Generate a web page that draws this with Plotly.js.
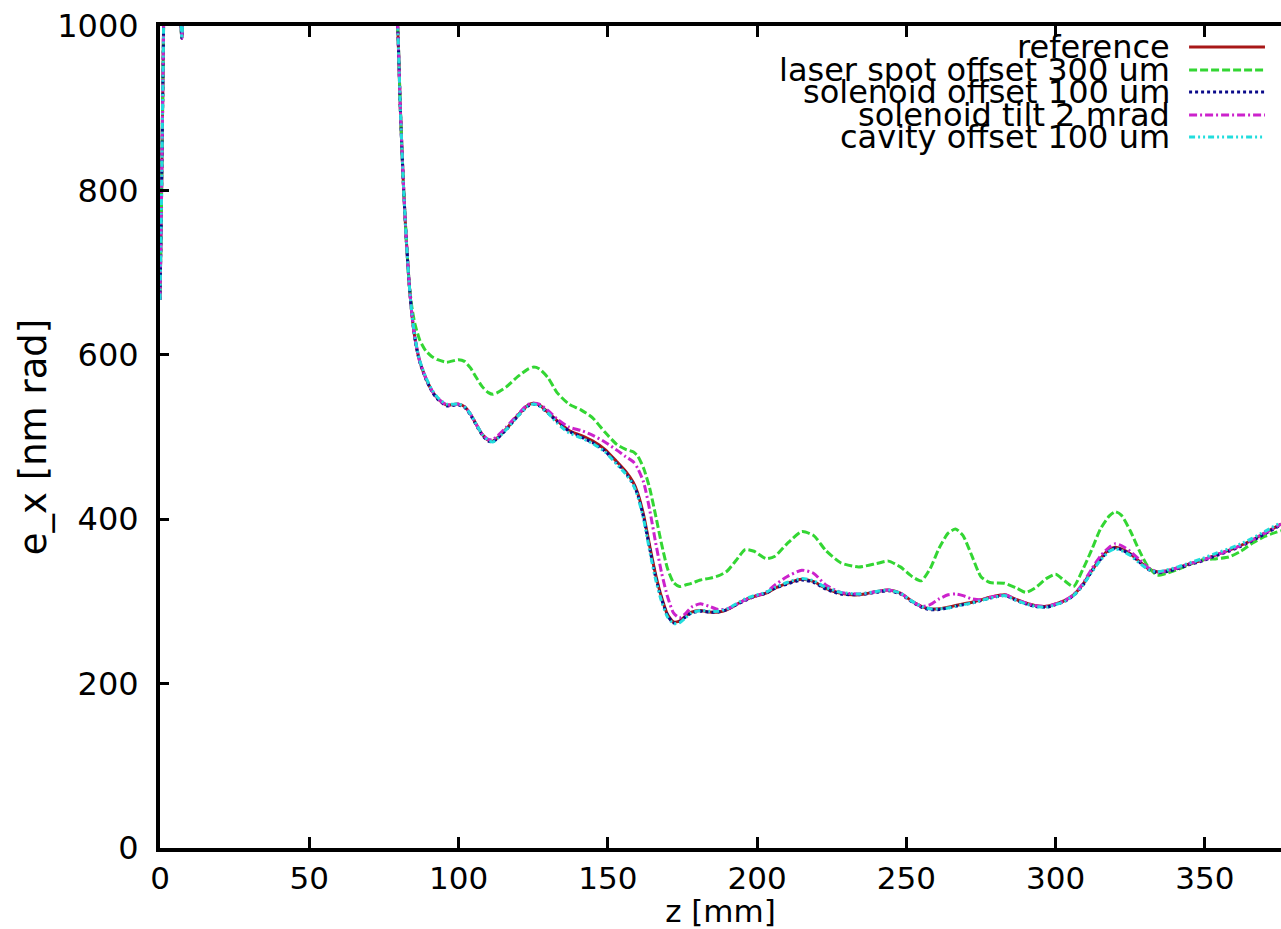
<!DOCTYPE html>
<html>
<head>
<meta charset="utf-8">
<script src="https://cdn.plot.ly/plotly-3.0.1.min.js"></script>
<style>html,body{margin:0;padding:0;background:#fff;}#chart{width:1281px;height:929px;}</style>
</head>
<body>
<div id="chart"></div>
<script>
// z positions [mm]
const z = [
  0, 0.4, 0.8, 1.2, 1.6, 3, 5, 6.5, 7.3, 8,
  10, 20, 40, 60, 75, 78, 79.6, 80.5, 81.5, 82.5,
  83.5, 84.5, 85.5, 87, 89, 91, 93, 96, 100, 102,
  104, 106, 108, 110, 111.5, 113, 116, 120, 123, 125,
  127, 130, 133, 137, 141, 145, 149, 153, 156, 158.5,
  160, 162, 164, 166, 168, 170, 172, 174, 176, 178,
  181, 184, 187, 190, 193, 196, 199, 203, 206, 210,
  215, 219, 223, 228, 234, 240, 244, 248, 252, 255,
  258, 261, 264, 266.5, 269, 272, 275, 278, 283, 287,
  290, 293, 297, 300, 303, 306, 309, 312, 315, 318,
  320, 322, 325, 328, 331, 334, 337, 341, 345, 349,
  354, 358, 362, 366, 370, 375.5
];

const exReference = [
  667, 760, 880, 1000, 1150, 1400, 1250, 1060, 985, 1050,
  1300, 1800, 2000, 1800, 1300, 1080, 1000, 900, 810, 740,
  685, 645, 618, 592, 572, 557, 547, 539, 540, 537,
  528, 515, 503, 496, 495, 499, 510, 527, 538, 541,
  539, 530, 520, 508, 502, 495, 485, 470, 458, 445,
  432, 405, 368, 333, 305, 284, 275, 276, 282, 287,
  289, 287, 287, 290, 296, 302, 306, 310, 316, 322,
  327, 324, 316, 310, 308, 312, 314, 310, 300, 294,
  291, 291, 293, 295, 297, 299, 302, 305, 308, 302,
  298, 295, 294, 297, 301, 308, 320, 337, 352, 363,
  366, 364, 358, 349, 340, 336, 337, 341, 346, 350,
  357, 362, 368, 375, 383, 394
];

const exLaser = [
  667, 760, 880, 1000, 1150, 1400, 1250, 1060, 985, 1050,
  1300, 1800, 2000, 1800, 1300, 1080, 1000, 900, 810, 740,
  685, 655, 636, 618, 605, 598, 594, 591, 594, 592,
  584, 572, 561, 554, 552, 554, 561, 574, 582, 585,
  583, 572, 554, 540, 533, 523, 506, 491, 485, 482,
  477, 462, 438, 405, 370, 340, 323, 318, 320, 322,
  326, 328, 331, 337, 350, 363, 361, 352, 355, 370,
  385, 380, 362, 347, 342, 346, 349, 342, 330, 325,
  340, 365, 383, 388, 380, 355, 330, 323, 322, 316,
  311, 316, 328, 333, 325, 318, 338, 362, 388, 404,
  409, 405, 386, 362, 342, 332, 334, 339, 345, 350,
  352, 354, 361, 371, 379, 386
];

const exSolOffset = [
  667, 760, 880, 1000, 1150, 1400, 1250, 1060, 985, 1050,
  1300, 1800, 2000, 1800, 1300, 1080, 1000, 900, 810, 740,
  685, 645, 617, 591, 571, 556, 546, 538, 539, 536,
  527, 514, 502, 495, 494, 498, 509, 526, 537, 540,
  538, 529, 519, 507, 500, 493, 483, 468, 456, 443,
  430, 402, 365, 330, 303, 283, 274, 275, 281, 286,
  288, 287, 287, 290, 296, 301, 306, 310, 316, 321,
  326, 323, 315, 309, 308, 311, 313, 309, 299, 293,
  290, 290, 292, 294, 296, 298, 301, 304, 307, 301,
  297, 294, 293, 296, 300, 307, 319, 336, 351, 362,
  365, 363, 357, 348, 339, 335, 336, 340, 345, 349,
  356, 361, 367, 374, 382, 393
];

const exSolTilt = [
  667, 760, 880, 1000, 1150, 1400, 1250, 1060, 985, 1050,
  1300, 1800, 2000, 1800, 1300, 1080, 1000, 900, 810, 740,
  685, 645, 618, 592, 572, 557, 547, 539, 540, 537,
  528, 515, 503, 497, 497, 501, 512, 528, 539, 541,
  540, 532, 522, 512, 508, 502, 494, 484, 476, 470,
  462, 445, 412, 372, 335, 306, 286, 280, 285, 293,
  297, 294, 290, 291, 296, 302, 306, 311, 320, 330,
  338, 334, 320, 311, 309, 312, 314, 310, 300, 294,
  296, 303, 308, 309, 307, 303, 302, 305, 308, 302,
  298, 295, 294, 297, 301, 308, 321, 339, 355, 366,
  370, 368, 361, 351, 341, 336, 337, 341, 346, 350,
  357, 362, 368, 375, 383, 394
];

const exCavity = [
  667, 760, 880, 1000, 1150, 1400, 1250, 1060, 985, 1050,
  1300, 1800, 2000, 1800, 1300, 1080, 1000, 900, 810, 740,
  685, 646, 619, 593, 573, 558, 548, 540, 540, 537,
  528, 515, 503, 496, 494, 498, 509, 526, 537, 540,
  538, 529, 517, 505, 499, 492, 482, 467, 455, 442,
  428, 400, 362, 327, 300, 281, 273, 274, 280, 286,
  289, 288, 288, 291, 297, 303, 307, 311, 317, 323,
  328, 325, 317, 311, 309, 312, 314, 310, 300, 294,
  291, 291, 292, 294, 296, 298, 301, 304, 307, 301,
  297, 294, 293, 296, 300, 307, 319, 335, 350, 361,
  364, 362, 356, 347, 339, 336, 338, 342, 347, 352,
  359, 364, 370, 377, 385, 396
];

const seriesNames = [
  "reference",
  "laser spot offset 300 um",
  "solenoid offset 100 um",
  "solenoid tilt 2 mrad",
  "cavity offset 100 um"
];
const seriesValues = [exReference, exLaser, exSolOffset, exSolTilt, exCavity];
const seriesColors = ["#a81818", "#33d633", "#0a0a8a", "#cc22cc", "#22dddd"];
const seriesDash = ["solid", "8px,3px", "3px,3px", "8px,3px,2px,3px", "6px,3px,2px,3px,2px,3px"];

const xTicks = [0, 50, 100, 150, 200, 250, 300, 350];
const yTicks = [0, 200, 400, 600, 800, 1000];

const FONT = "DejaVu Sans, Liberation Sans, Arial, sans-serif";

const traces = seriesNames.map((name, i) => ({
  type: "scatter",
  mode: "lines",
  name: name,
  x: z,
  y: seriesValues[i],
  line: {color: seriesColors[i], width: 3, dash: seriesDash[i], shape: "spline", smoothing: 0.6},
  showlegend: false,
  hoverinfo: "skip"
}));

// gnuplot-style key: right-aligned text with the sample line to its right
const legRowY = [0.9745, 0.9465, 0.9197, 0.8917, 0.865];
const annotations = seriesNames.map((name, i) => ({
  xref: "paper", yref: "paper",
  x: 0.9028, y: legRowY[i],
  xanchor: "right", yanchor: "middle",
  text: name, showarrow: false,
  font: {family: FONT, size: 32, color: "#000"}
}));
const shapes = seriesNames.map((name, i) => ({
  type: "line", xref: "paper", yref: "paper",
  x0: 0.918, x1: 0.9857, y0: legRowY[i], y1: legRowY[i],
  line: {color: seriesColors[i], width: 3, dash: seriesDash[i]}
}));

const layout = {
  width: 1281, height: 929,
  margin: {l: 160, r: 0, t: 26, b: 81},
  paper_bgcolor: "#fff", plot_bgcolor: "#fff",
  font: {family: FONT, size: 32, color: "#000"},
  showlegend: false,
  xaxis: {
    range: [0, 375.5], tickvals: xTicks, ticktext: xTicks.map(String),
    ticks: "inside", ticklen: 11, tickwidth: 3, tickcolor: "#000",
    showline: true, linewidth: 4, linecolor: "#000", mirror: "ticks",
    showgrid: false, zeroline: false,
    ticklabelstandoff: 0,
    tickfont: {family: FONT, size: 31},
    title: {text: "z [mm]", font: {family: FONT, size: 31}, standoff: 6}
  },
  yaxis: {
    range: [0, 1000], tickvals: yTicks, ticktext: yTicks.map(String),
    ticks: "inside", ticklen: 9, tickwidth: 3, tickcolor: "#000",
    showline: true, linewidth: 4, linecolor: "#000", mirror: false,
    showgrid: false, zeroline: false,
    ticklabelstandoff: 11,
    tickfont: {family: FONT, size: 32},
    title: {text: "e_x [nm rad]", font: {family: FONT, size: 37}, standoff: 0}
  },
  annotations: annotations,
  shapes: shapes
};

Plotly.newPlot("chart", traces, layout, {displayModeBar: false, staticPlot: true});
</script>
</body>
</html>
